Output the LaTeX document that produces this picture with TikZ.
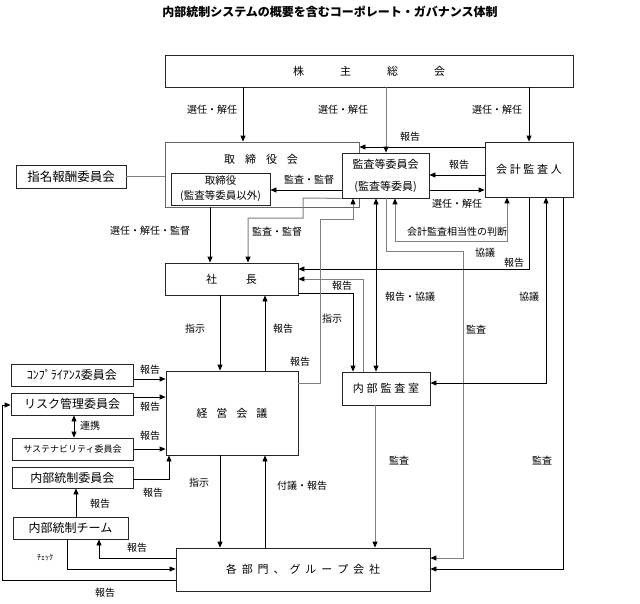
\documentclass[tikz,border=0pt]{standalone}
\usepackage{fontspec}
\setmainfont{Noto Sans CJK JP}
\usetikzlibrary{arrows.meta}

\tikzset{
  box/.style={draw=black!85, rectangle, fill=white, line width=0.8pt, inner sep=0pt, align=center},
  lbl/.style={inner sep=0pt, font=\fontsize{10}{12}\selectfont},
  arr/.style={-{Triangle[length=6pt,width=5pt,color=black]}},
  darr/.style={{Triangle[length=6pt,width=5pt,color=black]}-{Triangle[length=6pt,width=5pt,color=black]}},
  ln/.style={line width=0.8pt, draw=black},
  gln/.style={line width=1pt, draw=black!50},
}

\begin{document}
\begin{tikzpicture}[x=1pt, y=-1pt]
\useasboundingbox (0,0) rectangle (640,603);

\node[font=\bfseries\fontsize{12}{14}\selectfont] (title) at (330,12) {内部統制システムの概要を含むコーポレート・ガバナンス体制};

% top row
\node[box, minimum width=408, minimum height=32, font=\fontsize{11}{13}\selectfont] (sokai) at (369,71) {株\kern36pt 主\kern36pt 総\kern36pt 会};
\node[box, draw=black!60, fill=none, minimum width=194, minimum height=65] (torikai) at (262,174.5) {};
\node[font=\fontsize{11}{13}\selectfont] (torikaiT) at (261,159) {取\kern10pt 締\kern10pt 役\kern10pt 会};
\node[box, minimum width=99, minimum height=32, font=\fontsize{10.5}{15}\selectfont] (tori) at (220.5,189) {取締役\\(監査等委員以外)};
\node[box, minimum width=110, minimum height=23, font=\fontsize{12.5}{14}\selectfont] (shimei) at (71,176.5) {指名報酬委員会};
\node[box, minimum width=87, minimum height=45, font=\fontsize{11}{22}\selectfont] (kansatou) at (385.5,175.5) {監査等委員会\\(監査等委員)};
\node[box, minimum width=88, minimum height=55, font=\fontsize{11}{13}\selectfont] (kaikei) at (529,169.5) {会\kern2.7pt 計\kern2.7pt 監\kern2.7pt 査\kern2.7pt 人};

% middle
\node[box, minimum width=133, minimum height=32, font=\fontsize{11}{13}\selectfont] (shacho) at (231.5,279) {社\kern29pt 長};
\node[box, minimum width=132, minimum height=84, font=\fontsize{11}{13}\selectfont] (keiei) at (232,413) {経\kern9pt 営\kern9pt 会\kern9pt 議};
\node[box, minimum width=88, minimum height=33, font=\fontsize{11}{13}\selectfont] (naibu) at (386,388.5) {内\kern2.8pt 部\kern2.8pt 監\kern2.8pt 査\kern2.8pt 室};
\node[box, minimum width=254, minimum height=43, font=\fontsize{11}{13}\selectfont] (kakubu) at (303,569.5) {各\kern4.9pt 部\kern4.9pt 門\kern4.9pt 、\kern4.9pt グ\kern4.9pt ル\kern4.9pt ー\kern4.9pt プ\kern4.9pt 会\kern4.9pt 社};

% committees
\node[box, minimum width=122, minimum height=22, font=\fontsize{12}{14}\selectfont] (comp) at (72,375) {ｺﾝﾌﾟﾗｲｱﾝｽ委員会};
\node[box, minimum width=122, minimum height=22, font=\fontsize{12}{14}\selectfont] (risk) at (72,404) {リスク管理委員会};
\node[box, minimum width=121, minimum height=22, font=\fontsize{9}{11}\selectfont] (sust) at (72.5,449) {サステナビリティ委員会};
\node[box, minimum width=121, minimum height=21, font=\fontsize{12}{14}\selectfont] (naitoi) at (72.5,477.5) {内部統制委員会};
\node[box, minimum width=115, minimum height=22, font=\fontsize{12}{14}\selectfont] (team) at (70.5,528) {内部統制チーム};

% from 株主総会
\draw[ln, arr] (sokai.south -| 243,0) -- (torikai.north -| 243,0);
\draw[gln, arr] (sokai.south -| 386,0) -- (kansatou.north -| 386,0);
\draw[ln, arr] (sokai.south -| kaikei.north) -- (kaikei.north);

% 取締役会
\draw[gln] (shimei.east) -- (shimei.east -| torikai.west);
\draw[ln, arr] (torikai.south -| 210,0) -- (shacho.north -| 210,0);

% 会計監査人 / 監査等委員会
\draw[ln, arr] (kaikei.west |- 0,147) -- (torikai.east |- 0,147);
\draw[ln, arr] (kaikei.west |- 0,175) -- (kansatou.east |- 0,175);
\draw[ln, arr] (kansatou.east |- 0,190) -- (kaikei.west |- 0,190);
\draw[ln, arr] (kansatou.west |- 0,190) -- (tori.east |- 0,190);
\draw[gln, arr] (kansatou.south west) -- (303,198) -- (303,218) -- (248,218) -- (shacho.north -| 248,0);
\draw[gln, darr] (kansatou.south -| 395,0) -- (395,241) -- (507,241) -- (kaikei.south -| 507,0);
\draw[gln, arr] (kansatou.south -| 386,0) -- (386,251) -- (463,251) -- (463,558) -- (kakubu.east |- 0,558);
\draw[ln, darr] (kansatou.south -| 376,0) -- (naibu.north -| 376,0);

% 会計監査人 bottom
\draw[ln, arr] (kaikei.south) -- (529,269) -- (shacho.east |- 0,269);
\draw[ln, darr] (kaikei.south -| 546,0) -- (546,383) -- (naibu.east |- 0,383);
\draw[ln, arr] (kaikei.south -| 563,0) -- (563,569) -- (kakubu.east |- 0,569);

% 社長 / 内部監査室
\draw[gln, arr] (naibu.north -| 363,0) -- (363,279) -- (shacho.east |- 0,279);
\draw[ln, arr] (shacho.east |- 0,293) -- (353,293) -- (naibu.north -| 353,0);
\draw[gln, arr] (naibu.south -| 375,0) -- (kakubu.north -| 375,0);

% 経営会議
\draw[ln, arr] (shacho.south -| 220,0) -- (keiei.north -| 220,0);
\draw[ln, arr] (keiei.north -| 265,0) -- (shacho.south -| 265,0);
\draw[ln, arr] (keiei.south -| 220,0) -- (kakubu.north -| 220,0);
\draw[ln, arr] (kakubu.north -| 265,0) -- (keiei.south -| 265,0);
\draw[gln, arr] (keiei.east |- 0,383) -- (320,383) -- (320,219) -- (353,219) -- (kansatou.south -| 353,0);

% committees
\foreach \c/\y in {comp/379, risk/397, sust/449} {
  \draw[ln, arr] (\c.east |- 0,\y) -- (keiei.west |- 0,\y);
}
\draw[ln, arr] (naitoi.east |- 0,479) -- (169,479) -- (keiei.south -| 169,0);
\draw[ln, darr] (risk.south -| 74,0) -- (sust.north -| 74,0);
\draw[ln, arr] (team.north -| 76,0) -- (naitoi.south -| 76,0);
\draw[ln, arr] (kakubu.west |- 0,558) -- (99,558) -- (team.south -| 99,0);
\draw[ln, arr] (team.south -| 67,0) -- (67,569) -- (kakubu.west |- 0,569);
\draw[ln, arr] (kakubu.west |- 0,580) -- (2,580) -- (2,405) -- (risk.west |- 0,405);

% labels
\foreach \x/\y/\t [count=\i] in {212/110/選任・解任, 343/110/選任・解任, 497/110/選任・解任,
  410/137/報告, 459/165/報告, 457/204/選任・解任, 309/180/監査・監督,
  150/231/選任・解任・監督, 277/232/監査・監督, 457/232/会計監査相当性の判断,
  485/253/協議, 514/263/報告, 342/286/報告, 410/297/報告・協議, 529/297/協議,
  332/319/指示, 195/329/指示, 283/329/報告, 476/330/監査, 300/362/報告,
  150/370/報告, 150/407/報告, 90/426/連携, 150/436/報告, 399/461/監査,
  542/461/監査, 199/483/指示, 302/486/付議・報告, 153/493/報告, 100/504/報告,
  137/548/報告, 105/593/報告} {
  \node[lbl] (lab\i) at (\x,\y) {\t};
}
\node[lbl, font=\fontsize{8}{9}\selectfont] (check) at (45,558) {ﾁｪｯｸ};
\end{tikzpicture}
\end{document}
